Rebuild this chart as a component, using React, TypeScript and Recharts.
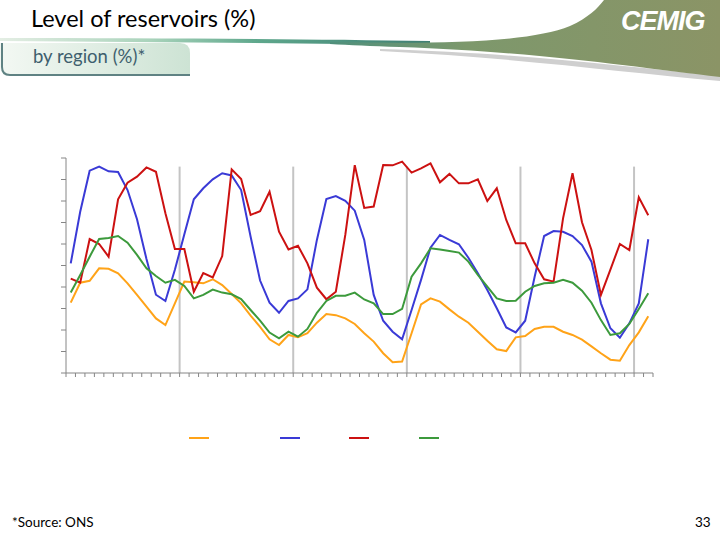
import React from 'react';
import { LineChart, Line, XAxis, YAxis, ReferenceLine, Legend } from 'recharts';

// Monthly reservoir levels (%) by region, 62 months
const northeast = [
  32.7, 42.0, 42.9, 48.7, 48.5, 46.4, 41.7, 36.3, 30.9, 25.4, 22.3,
  32.4, 42.5, 42.2, 41.7, 43.6, 40.9, 36.7, 32.4, 26.7, 21.5,
  15.7, 13.0, 17.7, 16.6, 18.5, 23.4, 27.4, 26.9, 25.4, 22.8, 18.5,
  14.6, 9.2, 5.0, 5.3, 18.5, 31.9, 34.7, 33.2, 29.6, 26.2,
  23.4, 19.2, 15.0, 11.0, 10.2, 16.6, 17.2, 20.5, 21.5, 21.5, 19.2,
  17.7, 15.5, 12.4, 9.2, 6.2, 5.7, 13.0, 18.9, 26.4,
];
const north = [
  51.0, 75.0, 94.1, 96.0, 93.8, 93.5, 85.1, 71.5, 53.0, 36.4, 33.5,
  48.0, 64.5, 80.8, 85.9, 90.1, 92.9, 91.9, 85.1, 63.4, 43.0,
  32.7, 28.0, 33.5, 34.7, 38.9, 61.9, 80.9, 82.3, 80.1, 75.5, 61.9,
  36.3, 24.3, 19.2, 15.7, 29.3, 43.3, 58.3, 64.2, 61.9, 59.9,
  53.6, 46.4, 38.6, 30.1, 21.2, 18.9, 24.3, 44.8, 63.7, 66.0, 65.7,
  63.7, 59.5, 51.8, 32.4, 20.8, 16.4, 23.1, 32.4, 62.2,
];
const south = [
  43.9, 42.0, 62.3, 60.0, 54.1, 80.8, 88.5, 91.3, 95.6, 93.6, 74.3,
  57.7, 57.7, 37.8, 46.5, 44.5, 54.4, 94.7, 90.2, 73.5, 75.3,
  84.3, 65.7, 57.5, 59.2, 51.0, 39.7, 34.3, 37.8, 64.2, 96.7, 76.8,
  77.4, 96.7, 96.6, 98.3, 93.2, 95.2, 97.5, 88.7, 92.6, 88.2,
  88.2, 90.1, 80.0, 85.9, 71.2, 60.3, 60.3, 51.0, 43.6, 42.5, 71.9,
  92.9, 70.1, 57.2, 36.3, 48.1, 60.0, 57.2, 81.7, 73.4,
];
const southeast = [
  37.4, 45.6, 54.1, 62.3, 62.8, 63.7, 60.6, 54.9, 48.7, 45.1, 42.0,
  43.3, 40.5, 34.7, 36.3, 38.8, 37.4, 36.6, 34.4, 29.3, 24.4,
  18.8, 16.1, 19.2, 16.9, 20.5, 28.0, 33.5, 35.9, 35.9, 37.4, 34.2,
  32.4, 27.4, 27.4, 29.8, 44.8, 51.0, 58.0, 57.4, 56.7, 56.0,
  51.8, 45.6, 40.2, 34.7, 33.5, 33.6, 37.8, 40.5, 41.7, 42.0, 43.3,
  42.0, 38.3, 32.7, 24.6, 17.7, 18.5, 22.8, 29.8, 37.1,
];

const yTicks = [0, 10, 20, 30, 40, 50, 60, 70, 80, 90, 100];
const yearBreaks = [12, 24, 36, 48, 60];
const monthCount = northeast.length;
const xTicks = Array.from({ length: monthCount + 1 }, (_, i) => i);

const series = [
  { key: 'northeast', name: 'Northeast', color: '#FFA318' },
  { key: 'north', name: 'North', color: '#3A3AD6' },
  { key: 'south', name: 'South', color: '#CC1111' },
  { key: 'southeast', name: 'Southeast/Midwest', color: '#3C9A3C' },
];

const data = northeast.map((_, i) => ({
  x: i + 0.5,
  northeast: northeast[i],
  north: north[i],
  south: south[i],
  southeast: southeast[i],
}));

const legendLeft = [188, 279, 348, 418];

const renderLegend = () => (
  <div style={{ position: 'relative', width: 720, height: 0 }}>
    {series.map((s, i) => (
      <svg
        key={s.key}
        width={22}
        height={4}
        style={{ position: 'absolute', left: legendLeft[i], top: 436 }}
      >
        <line x1={1} y1={2} x2={21} y2={2} stroke={s.color} strokeWidth={2} />
      </svg>
    ))}
  </div>
);

const blank = () => '';

const Header = () => (
  <svg width={720} height={82} style={{ position: 'absolute', left: 0, top: 0 }}>
    <defs>
      <linearGradient id="bandGrad" x1="0" x2="1" y1="0" y2="0">
        <stop offset="0" stopColor="#e4eee4" />
        <stop offset="0.35" stopColor="#a9d3bb" />
        <stop offset="0.6" stopColor="#5ea78c" />
        <stop offset="1" stopColor="#3f7e72" />
      </linearGradient>
      <linearGradient id="oliveGrad" x1="0" x2="1" y1="0" y2="0">
        <stop offset="0" stopColor="#4f8f7b" />
        <stop offset="0.35" stopColor="#7d986c" />
        <stop offset="1" stopColor="#8b9466" />
      </linearGradient>
      <linearGradient id="boxGrad" x1="0" x2="1" y1="0" y2="0">
        <stop offset="0" stopColor="#f3f8f3" />
        <stop offset="1" stopColor="#cde3d4" />
      </linearGradient>
    </defs>
    <path d="M0 38 C 150 38, 300 39, 430 41 L 430 45 C 300 43, 150 42, 0 41 Z" fill="url(#bandGrad)" />
    <path d="M 380 49 C 520 53, 620 66, 720 76 L 720 81 C 620 72, 520 58, 380 51 Z" fill="#cfcfcf" />
    <path
      d="M 330 42 C 450 44, 530 42, 570 26 C 588 18, 598 8, 604 0 L 720 0 L 720 77 C 640 68, 540 52, 400 47 C 370 46, 350 45, 330 44 Z"
      fill="url(#oliveGrad)"
    />
    <path d="M0 43 L 180 43 Q 190 43 190 53 L 190 76 L 10 76 Q 0 76 0 66 Z" fill="url(#boxGrad)" />
    <path d="M 2 43 L 2 67 Q 2 75 10 75 L 190 75" fill="none" stroke="#5f8283" strokeWidth={2} />
    <text x={31} y={27} fontFamily="Lato, 'Open Sans', sans-serif" fontSize={23.5} fill="#000">
      Level of reservoirs (%)
    </text>
    <text x={33} y={63} fontFamily="Lato, 'Open Sans', sans-serif" fontSize={18.5} fill="#3e5f6e">
      by region (%)*
    </text>
    <text
      x={621}
      y={30}
      fontFamily="'Liberation Sans', Arial, sans-serif"
      fontWeight="bold"
      fontStyle="italic"
      fontSize={27}
      letterSpacing={-1}
      fill="#ffffff"
    >
      CEMIG
    </text>
  </svg>
);

export default function App() {
  return (
    <div
      style={{
        position: 'absolute',
        left: 0,
        top: 0,
        width: 720,
        height: 540,
        background: '#ffffff',
        fontFamily: "Lato, 'Open Sans', sans-serif",
        overflow: 'hidden',
      }}
    >
      <Header />
      <div style={{ position: 'absolute', left: 0, top: 0 }}>
        <LineChart
          width={720}
          height={540}
          data={data}
          margin={{ top: 158, right: 67, bottom: 137, left: 6 }}
        >
          <XAxis
            type="number"
            dataKey="x"
            domain={[0, monthCount]}
            ticks={xTicks}
            interval={0}
            tick={{ fontSize: 1, fill: 'transparent' }}
            tickFormatter={blank}
            tickSize={4}
            height={30}
            axisLine={{ stroke: '#868686' }}
            tickLine={{ stroke: '#868686' }}
          />
          <YAxis
            type="number"
            domain={[0, 100]}
            ticks={yTicks}
            interval={0}
            tick={{ fontSize: 1, fill: 'transparent' }}
            tickFormatter={blank}
            tickSize={5}
            width={60}
            axisLine={{ stroke: '#868686' }}
            tickLine={{ stroke: '#868686' }}
          />
          {yearBreaks.map((b) => (
            <ReferenceLine
              key={b}
              segment={[
                { x: b, y: 0 },
                { x: b, y: 96 },
              ]}
              stroke="#c4c4c4"
              strokeWidth={2}
              ifOverflow="visible"
            />
          ))}
          {series.map((s) => (
            <Line
              key={s.key}
              type="linear"
              dataKey={s.key}
              name={s.name}
              stroke={s.color}
              strokeWidth={2}
              dot={false}
              activeDot={false}
              isAnimationActive={false}
            />
          ))}
          <Legend
            content={renderLegend}
            wrapperStyle={{ position: 'absolute', left: 0, top: 0, width: 720, height: 0 }}
          />
        </LineChart>
      </div>
      <div style={{ position: 'absolute', left: 12, top: 514, fontSize: 13.5, color: '#000' }}>
        *Source: ONS
      </div>
      <div style={{ position: 'absolute', left: 695, top: 514, fontSize: 13.5, color: '#000' }}>33</div>
    </div>
  );
}
